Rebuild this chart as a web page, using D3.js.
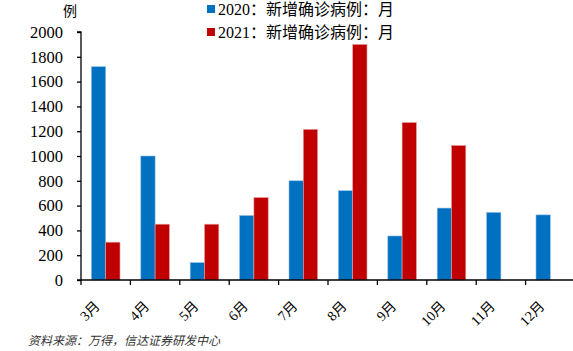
<!DOCTYPE html>
<html><head><meta charset="utf-8">
<script src="https://cdn.jsdelivr.net/npm/d3@7"></script>
<style>body{margin:0;background:#fff;} svg{display:block;}</style>
</head><body>
<svg id="c" width="573" height="351"></svg>
<script>
const categories = ["3月","4月","5月","6月","7月","8月","9月","10月","11月","12月"];
const series2020 = [1720,1000,140,520,800,720,355,580,545,525];
const series2021 = [305,450,450,665,1215,1900,1270,1085,null,null];
const seriesNames = ["2020：新增确诊病例：月","2021：新增确诊病例：月"];
const yTicks = [0,200,400,600,800,1000,1200,1400,1600,1800,2000];
const colors = ["#0070C0","#C00000"];

const svg = d3.select("#c");
const m = {l:81, t:32, b:280};
const x = d3.scaleBand().domain(categories).range([m.l, 575]).paddingInner(0).paddingOuter(0);
const y = d3.scaleLinear().domain([0,2000]).range([m.b, m.t]);
const serif = "'Liberation Serif','Times New Roman',serif";
const cjk = "'Liberation Serif','Noto Sans CJK SC',serif";

const bw = 14.3;
const data = [series2020, series2021];
data.forEach((s,si)=>{
  svg.append("g").selectAll("rect").data(categories.map((c,i)=>({c,v:s[i]})).filter(d=>d.v!=null))
    .join("rect")
    .attr("x", d=>x(d.c)+x.bandwidth()/2 - bw + si*bw)
    .attr("width", bw)
    .attr("y", d=>y(d.v))
    .attr("height", d=>y(0)-y(d.v))
    .attr("fill", colors[si])
    .attr("stroke", si===0 ? "#8fbce6" : "#e6a0a0")
    .attr("stroke-width", 0.6);
});

// y axis
const ya = svg.append("g").attr("transform",`translate(${m.l},0)`)
  .call(d3.axisLeft(y).tickValues(yTicks).tickSize(4).tickPadding(14).tickFormat(d3.format("d")));
ya.select(".domain").attr("stroke","#000").attr("stroke-width",1.3).attr("d",`M-4,${y(2000)}H0V${y(0)}`);
ya.selectAll(".tick line").attr("stroke","#000").attr("stroke-width",1.3);
ya.selectAll(".tick text").attr("font-family",serif).attr("font-size",16.5).attr("fill","#000");

// x axis
const xa = svg.append("g").attr("transform",`translate(0,${m.b})`)
  .call(d3.axisBottom(x).tickSize(0).tickFormat(""));
xa.select(".domain").attr("stroke","#000").attr("stroke-width",1.3).attr("d",`M${m.l-4},0H573`);
xa.selectAll(".tick").remove();
const tickPos = categories.map(c=>x(c));
svg.append("g").selectAll("line").data(tickPos).join("line")
  .attr("x1",d=>d).attr("x2",d=>d).attr("y1",m.b).attr("y2",m.b+5)
  .attr("stroke","#000").attr("stroke-width",1.3);
svg.append("g").selectAll("text").data(categories).join("text")
  .attr("transform",d=>`translate(${x(d)+x.bandwidth()/2-5},${m.b+27}) rotate(-45)`)
  .attr("text-anchor","end")
  .attr("font-family",cjk).attr("font-size",14).attr("fill","#000")
  .text(d=>d);

// unit
svg.append("text").attr("x",70).attr("y",16).attr("text-anchor","middle")
  .attr("font-family","'Noto Sans CJK SC',serif").attr("font-size",14).attr("fill","#000").text("例");

// legend
seriesNames.forEach((n,i)=>{
  const ly = 9 + i*23;
  svg.append("rect").attr("x",207).attr("y",ly-4).attr("width",8).attr("height",8).attr("fill",colors[i]);
  svg.append("text").attr("x",218).attr("y",ly+6).attr("font-family",cjk).attr("font-size",16)
    .attr("fill","#000").text(n);
});

// source
svg.append("text").attr("x",28).attr("y",345).attr("font-family","'Noto Sans CJK SC',sans-serif")
  .attr("font-size",12).attr("font-style","italic").attr("fill","#333").text("资料来源：万得，信达证券研发中心");
</script>
</body></html>
